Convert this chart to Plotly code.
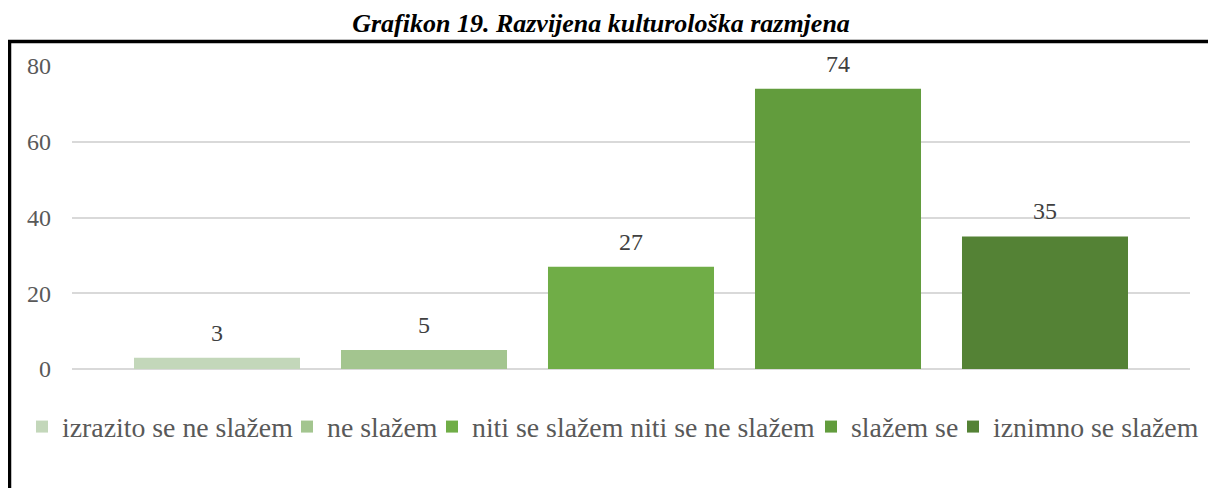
import plotly.graph_objects as go

categories = ["izrazito se ne slažem", "ne slažem", "niti se slažem niti se ne slažem", "slažem se", "iznimno se slažem"]
values = [3, 5, 27, 74, 35]
colors = ["#C3D7BA", "#A3C58F", "#70AD47", "#629C3D", "#548235"]
y_ticks = [0, 20, 40, 60, 80]
title_text = "Grafikon 19. Razvijena kulturološka razmjena"

SERIF = "Liberation Serif, Times New Roman, serif"
W, H = 1200, 480          # page body has an 8px margin
O = 8                     # offset of the figure inside the window
legend_text_x = [60, 325, 470, 849, 991]   # window px where each legend text starts

legend_ids = ["legend", "legend2", "legend3", "legend4", "legend5"]

fig = go.Figure()
for i, (cat, val, col) in enumerate(zip(categories, values, colors)):
    fig.add_trace(go.Bar(
        x=[i], y=[val], name=cat, marker=dict(color=col, line=dict(width=0)),
        width=0.802, hoverinfo="name+y", legend=legend_ids[i],
    ))
    fig.add_annotation(x=i, y=val, text=str(val), showarrow=False,
                       yanchor="middle", yshift=25,
                       font=dict(family=SERIF, size=24, color="#404040"))

legend_style = dict(orientation="h", xref="container", yref="container",
                    xanchor="left", y=1 - (427 - O) / H, yanchor="middle",
                    font=dict(family=SERIF, size=27.8, color="#595959"),
                    itemwidth=30, bgcolor="rgba(0,0,0,0)", borderwidth=0)
legends = {}
for lid, tx in zip(legend_ids, legend_text_x):
    legends[lid] = dict(legend_style, x=(tx - O - 38) / W)

fig.update_layout(
    width=W, height=H,
    margin=dict(l=72 - O, r=W - (1190 - O), t=66 - O, b=H - (369 - O), autoexpand=False),
    paper_bgcolor="white", plot_bgcolor="white",
    barmode="overlay",
    showlegend=True,
    title=dict(text="<b><i>" + title_text + "</i></b>", xref="container", yref="container",
               x=(601 - O) / W, y=1 - (23 - O) / H, xanchor="center", yanchor="middle",
               font=dict(family=SERIF, size=26, color="black")),
    xaxis=dict(range=[-0.7005, 4.7005], showticklabels=False, showgrid=False,
               zeroline=False, showline=False, ticks=""),
    yaxis=dict(range=[0, 80], tickvals=y_ticks, showgrid=True, gridcolor="#D9D9D9",
               gridwidth=1.5, zeroline=True, zerolinecolor="#D9D9D9", zerolinewidth=1.5,
               showline=False, ticks="", ticklabelstandoff=20,
               tickfont=dict(family=SERIF, size=24, color="#595959")),
    shapes=[dict(type="rect", xref="paper", yref="paper",
                 x0=(9.5 - 72) / 1118, x1=2.0, y0=-2.0, y1=(369 - 41.5) / 303,
                 line=dict(color="black", width=3.5), fillcolor="rgba(0,0,0,0)",
                 layer="above")],
    **legends,
)

fig.write_html("out.html")
